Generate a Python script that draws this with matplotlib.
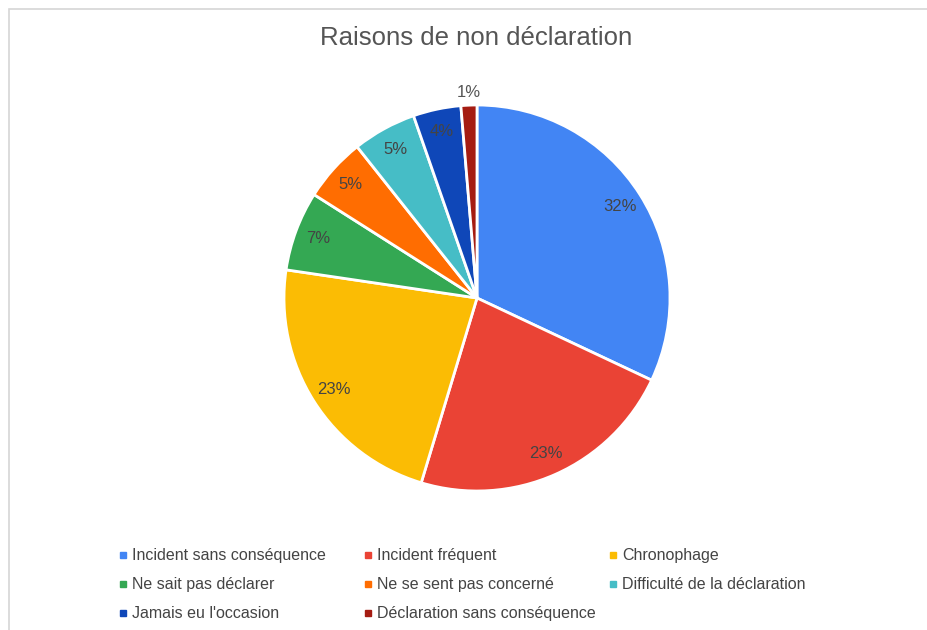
import matplotlib.pyplot as plt
import matplotlib as mpl
from matplotlib.patches import Rectangle

mpl.rcParams['font.family'] = ['Liberation Sans', 'DejaVu Sans']

# data: number of answers per reason
labels = ["Incident sans conséquence", "Incident fréquent", "Chronophage",
          "Ne sait pas déclarer", "Ne se sent pas concerné",
          "Difficulté de la déclaration", "Jamais eu l'occasion",
          "Déclaration sans conséquence"]
counts = [24, 17, 17, 5, 4, 4, 3, 1]
colors = ["#4285F4", "#EA4335", "#FBBC04", "#34A853", "#FF6D01",
          "#46BDC6", "#0F47B8", "#A51C12"]

W, H = 928, 630
fig = plt.figure(figsize=(W / 100, H / 100), dpi=100)

# light frame around the chart (right and bottom edges cut off)
fig.patches.append(Rectangle((9 / W, -0.1), 1.2, (H - 9) / H + 0.1,
                             transform=fig.transFigure, fill=False,
                             edgecolor="#d6d6d6", linewidth=1.2))

fig.text(476 / W, 1 - 38 / H, "Raisons de non déclaration",
         ha="center", va="center", fontsize=18.5, color="#555555")

# pie axes
cx, cy, r = 477, 298, 193
ax = fig.add_axes([(cx - r) / W, (H - cy - r) / H, 2 * r / W, 2 * r / H])
wedges, texts, autotexts = ax.pie(
    counts, colors=colors, startangle=90, counterclock=False,
    autopct="%.0f%%", pctdistance=0.88, radius=1,
    wedgeprops=dict(edgecolor="white", linewidth=2),
    textprops=dict(fontsize=12, color="#444444"))
# the tiny slice gets its label outside
px, py = autotexts[-1].get_position()
autotexts[-1].set_position((px * 1.21, py * 1.21))
autotexts[-1].set_color("#555555")
ax.set_xlim(-1, 1)
ax.set_ylim(-1, 1)
ax.axis("off")

# legend, filled row by row in 3 equal columns
col_x = [120, 365, 610]
row_y = [555, 584, 613]
for i, (lab, c) in enumerate(zip(labels, colors)):
    x = col_x[i % 3]
    y = row_y[i // 3]
    fig.patches.append(Rectangle((x / W, (H - y - 3) / H), 6 / W, 6 / H,
                                 transform=fig.transFigure, color=c))
    fig.text((x + 12) / W, (H - y - 5) / H, lab, ha="left", va="baseline",
             fontsize=11.5, color="#444444")

fig.savefig("out.png", dpi=100)
